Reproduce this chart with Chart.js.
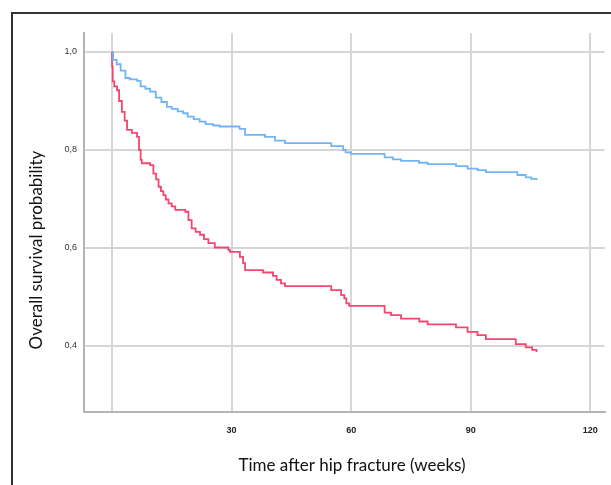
<!DOCTYPE html>
<html>
<head>
<meta charset="utf-8">
<script src="https://cdn.jsdelivr.net/npm/chart.js@4"></script>
<style>
  html, body { margin: 0; padding: 0; background: #fff; }
  #wrap { position: relative; width: 611px; height: 485px; overflow: hidden; }
  #frame {
    position: absolute; left: 11px; top: 12px; width: 620px; height: 500px;
    border-top: 2px solid #333; border-left: 2px solid #333;
  }
  #chart { position: absolute; left: 0; top: 0; }
</style>
</head>
<body>
<div id="wrap">
  <div id="frame"></div>
  <canvas id="chart" width="611" height="485"></canvas>
</div>
<script>
// Kaplan-Meier steps: week of the event and survival after it
const blueWeeks = [0, 0.3, 1.2, 2.2, 3.4, 4.5, 6.3, 7.2, 8.4, 9.6, 11, 12.4, 13.8, 15, 16.5, 17.9, 19, 20.5, 22, 23.5, 25.4, 27,
  32, 33.4, 38.4, 40.9, 43.4, 55, 58, 58.6, 60, 68.4, 70.5, 72.5, 77, 79.2, 86.3, 89.2, 91.7, 93.8, 101.7, 103.8, 105.2, 106.5];
const blueSurvival = [1.0, 0.984, 0.975, 0.962, 0.947, 0.944, 0.941, 0.93, 0.925, 0.919, 0.907, 0.898, 0.888, 0.884, 0.879, 0.875, 0.868, 0.863, 0.858, 0.853, 0.85, 0.848,
  0.843, 0.831, 0.827, 0.819, 0.814, 0.808, 0.8, 0.795, 0.792, 0.785, 0.781, 0.778, 0.774, 0.771, 0.767, 0.762, 0.759, 0.755, 0.749, 0.744, 0.741, 0.739];

const redWeeks = [0, 0.05, 0.2, 0.6, 1.3, 1.8, 2.5, 3.2, 3.8, 5, 6.3, 6.8, 7.2, 7.5, 9.6, 10.4, 11.1, 11.7, 12.3, 12.9, 13.5, 14.2, 15, 15.9,
  18.4, 19.2, 20, 21, 22.1, 23.1, 24.2, 25.8, 29.2, 29.6, 32.1, 32.9, 33.4, 37.9, 40.4, 41.3, 42.4, 43.4, 55, 57.5, 58.3, 58.8, 59.5,
  68.4, 70, 72.5, 77.1, 79.2, 86.3, 89.2, 91.7, 93.8, 101.3, 103.8, 105.4, 106.5];
const redSurvival = [1.0, 0.97, 0.94, 0.93, 0.922, 0.9, 0.878, 0.86, 0.841, 0.835, 0.827, 0.8, 0.78, 0.773, 0.769, 0.752, 0.74, 0.725, 0.716, 0.708, 0.699, 0.691, 0.685, 0.678,
  0.674, 0.657, 0.64, 0.633, 0.627, 0.618, 0.61, 0.601, 0.596, 0.592, 0.582, 0.569, 0.555, 0.55, 0.543, 0.535, 0.528, 0.522, 0.514, 0.504, 0.497, 0.487, 0.482,
  0.468, 0.463, 0.456, 0.45, 0.444, 0.438, 0.429, 0.422, 0.414, 0.404, 0.397, 0.392, 0.388];

const weekTicks = [0, 30, 60, 90, 120];
const survivalTicks = [0.4, 0.6, 0.8, 1.0];
const xTitle = 'Time after hip fracture (weeks)';
const yTitle = 'Overall survival probability';

const toPoints = (xs, ys) => xs.map((x, i) => ({ x: x, y: ys[i] }));

// axis titles placed where the original figure has them
const axisTitles = {
  id: 'axisTitles',
  afterDraw(chart) {
    const ctx = chart.ctx;
    ctx.save();
    ctx.fillStyle = '#111';
    ctx.font = '17px Lato, "Open Sans", sans-serif';
    ctx.textAlign = 'center';
    ctx.textBaseline = 'middle';
    ctx.fillText(xTitle, 352, 466);
    ctx.translate(37, 250);
    ctx.rotate(-Math.PI / 2);
    ctx.fillText(yTitle, 0, 0);
    ctx.restore();
  }
};

const gridColor = '#d6d6d6';

new Chart(document.getElementById('chart').getContext('2d'), {
  type: 'line',
  data: {
    datasets: [
      {
        label: 'blue',
        data: toPoints(blueWeeks, blueSurvival),
        borderColor: '#72b5f2',
        borderWidth: 1.8,
        stepped: 'before',
        pointRadius: 0,
        fill: false
      },
      {
        label: 'red',
        data: toPoints(redWeeks, redSurvival),
        borderColor: '#f4466f',
        borderWidth: 1.8,
        stepped: 'before',
        pointRadius: 0,
        fill: false
      }
    ]
  },
  options: {
    responsive: false,
    animation: false,
    layout: { padding: { left: 0, top: 33, right: 5, bottom: 0 } },
    plugins: {
      legend: { display: false },
      tooltip: { enabled: false }
    },
    scales: {
      x: {
        type: 'linear',
        min: -7,
        max: 123.6,
        afterFit: s => { s.height = 73; },
        afterBuildTicks: s => { s.ticks = weekTicks.map(v => ({ value: v })); },
        grid: { color: gridColor, lineWidth: 2, drawTicks: false },
        border: { color: '#b4b4b4', width: 2 },
        ticks: {
          padding: 13,
          color: '#222',
          font: { family: 'Liberation Sans, Arial, sans-serif', size: 9, weight: 'bold' },
          callback: v => (v === 0 ? '' : String(v))
        }
      },
      y: {
        type: 'linear',
        min: 0.2653,
        max: 1.0388,
        afterFit: s => { s.width = 84; },
        afterBuildTicks: s => { s.ticks = survivalTicks.map(v => ({ value: v })); },
        grid: { color: gridColor, lineWidth: 2, drawTicks: false },
        border: { color: '#b4b4b4', width: 2 },
        ticks: {
          padding: 7,
          color: '#333',
          font: { family: 'Liberation Sans, Arial, sans-serif', size: 9 },
          callback: v => v.toFixed(1).replace('.', ',')
        }
      }
    }
  },
  plugins: [axisTitles]
});
</script>
</body>
</html>
